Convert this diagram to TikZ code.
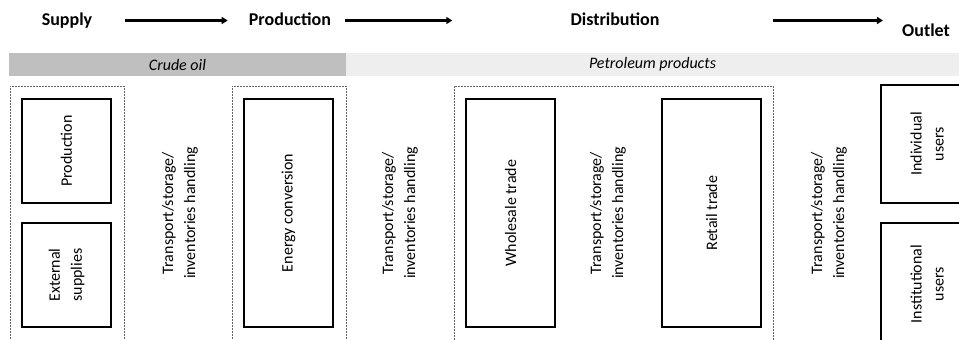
\documentclass[tikz,border=0pt]{standalone}
\usepackage{fontspec}
\setmainfont{Carlito}
\usetikzlibrary{arrows.meta}
\definecolor{crudegray}{RGB}{191,191,191}
\definecolor{productgray}{RGB}{238,238,238}
\definecolor{dashgray}{RGB}{100,100,100}

\begin{document}
\begin{tikzpicture}[x=1pt, y=-1pt,
  stage/.style={font=\bfseries\fontsize{18}{21}\selectfont, inner sep=0pt, text height=13pt, text depth=4pt},
  flow/.style={-{Triangle[length=6pt,width=7pt]}, line width=3pt},
  band/.style={minimum height=23pt, inner sep=0pt, font=\itshape\fontsize{16}{18}\selectfont},
  group/.style={draw=dashgray, dash pattern=on 2pt off 1pt, line width=0.8pt, inner sep=0pt},
  unit/.style={draw, line width=1.6pt, rotate=90, align=center, inner sep=0pt, font=\fontsize{16}{22}\selectfont},
  handling/.style={rotate=90, align=center, font=\fontsize{16}{22}\selectfont}]

\path[use as bounding box, clip] (0,0) rectangle (959,340);

% stages along the chain
\node[stage] (supply) at (67,20.5) {Supply};
\node[stage] (production) at (290,20.5) {Production};
\node[stage] (distribution) at (615,20.5) {Distribution};
\node[stage] (outlet) at (926,31.5) {Outlet};

\draw[flow, shorten <=33pt, shorten >=21pt] (supply) -- (production);
\draw[flow, shorten <=14pt, shorten >=118pt] (production) -- (distribution);
\draw[flow, shorten <=113pt, shorten >=19pt] (distribution.east) -- (distribution.east -| outlet.west);

% product bands
\node[band, fill=crudegray, minimum width=337pt] (crude) at (177.5,64.5) {Crude oil};
\node[band, fill=productgray, minimum width=613pt] (products) at (652.5,64.5) {Petroleum products};

% dashed groups
\node[group, minimum width=114pt, minimum height=259pt] (supplygroup) at (67,215.5) {};
\node[group, minimum width=114pt, minimum height=259pt] (refinegroup) at (289,215.5) {};
\node[group, minimum width=319pt, minimum height=259pt] (tradegroup) at (613.5,215.5) {};

% units
\node[unit, minimum width=104pt, minimum height=89pt] (prod) at (66.5,151) {Production};
\node[unit, minimum width=104pt, minimum height=89pt] (external) at (66.5,275) {External\\supplies};
\node[unit, minimum width=228pt, minimum height=89pt] (energy) at (288.5,213) {Energy conversion};
\node[unit, minimum width=228pt, minimum height=89pt] (wholesale) at (510.5,213) {Wholesale trade};
\node[unit, minimum width=228pt, minimum height=99pt] (retail) at (711.5,213) {Retail trade};
\node[unit, minimum width=118pt, minimum height=92pt] (individual) at (927,144) {Individual\\users};
\node[unit, minimum width=122pt, minimum height=92pt] (institutional) at (927,284) {Institutional\\users};

% handling between stages
\node[handling] (handling1) at (180,213) {Transport/storage/\\inventories handling};
\node[handling] (handling2) at (400,213) {Transport/storage/\\inventories handling};
\node[handling] (handling3) at (608,213) {Transport/storage/\\inventories handling};
\node[handling] (handling4) at (829,213) {Transport/storage/\\inventories handling};
\end{tikzpicture}
\end{document}
